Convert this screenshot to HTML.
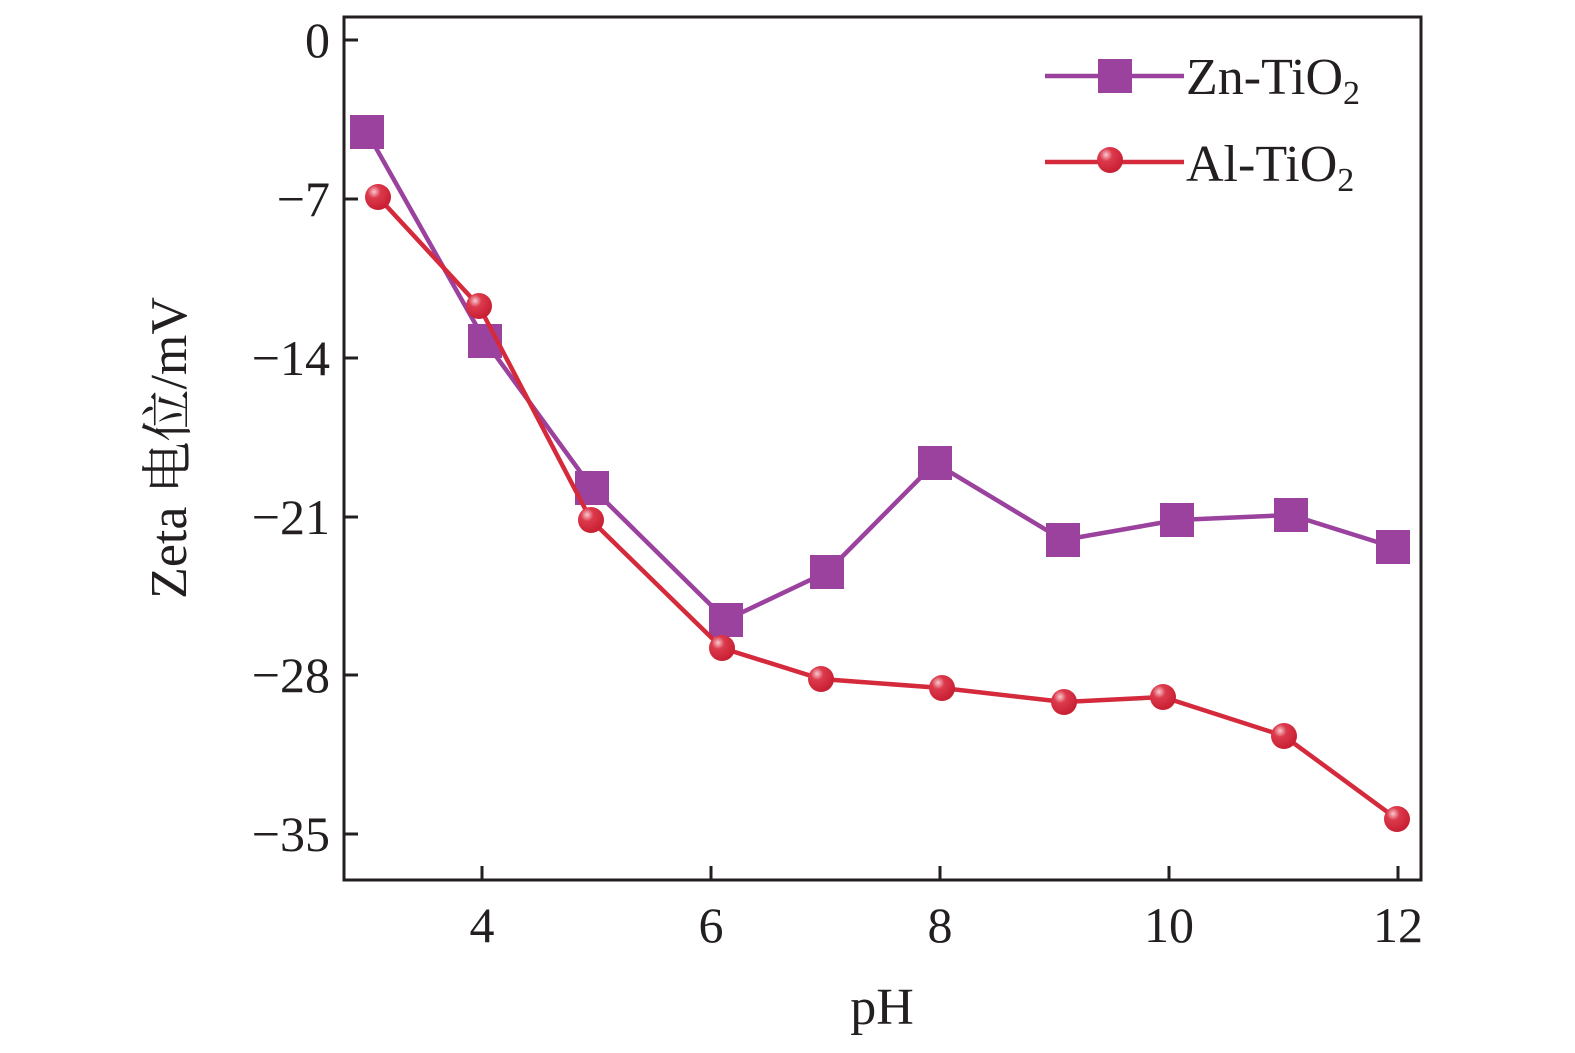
<!DOCTYPE html>
<html><head><meta charset="utf-8"><style>
html,body{margin:0;padding:0;background:#fff;overflow:hidden;width:1575px;height:1053px;}
svg{display:block;}
text{font-family:"Liberation Serif","Noto Serif CJK SC",serif;fill:#231f20;}
</style></head><body>
<svg width="1575" height="1053" viewBox="0 0 1575 1053" xmlns="http://www.w3.org/2000/svg">
<defs>
<radialGradient id="rg" cx="0.35" cy="0.3" r="0.7">
<stop offset="0" stop-color="#f7c9cf"/><stop offset="0.35" stop-color="#dc3a4c"/><stop offset="1" stop-color="#c81f33"/>
</radialGradient>
</defs>
<g stroke="#231f20" stroke-width="3" fill="none">
<rect x="344" y="17" width="1077" height="863"/>
<line x1="344" y1="40" x2="358" y2="40"/>
<line x1="344" y1="199" x2="358" y2="199"/>
<line x1="344" y1="358" x2="358" y2="358"/>
<line x1="344" y1="517" x2="358" y2="517"/>
<line x1="344" y1="675" x2="358" y2="675"/>
<line x1="344" y1="834" x2="358" y2="834"/>
<line x1="482" y1="880" x2="482" y2="866"/>
<line x1="711" y1="880" x2="711" y2="866"/>
<line x1="940" y1="880" x2="940" y2="866"/>
<line x1="1169" y1="880" x2="1169" y2="866"/>
<line x1="1398" y1="880" x2="1398" y2="866"/>
</g>
<g font-size="50" text-anchor="end">
<text x="330" y="57">0</text>
<text x="330" y="216">−7</text>
<text x="330" y="375">−14</text>
<text x="330" y="534">−21</text>
<text x="330" y="692">−28</text>
<text x="330" y="851">−35</text>
</g>
<g font-size="50" text-anchor="middle">
<text x="482" y="942">4</text>
<text x="711" y="942">6</text>
<text x="940" y="942">8</text>
<text x="1169" y="942">10</text>
<text x="1398" y="942">12</text>
<text x="882" y="1024" font-size="52">pH</text>
</g>
<text transform="translate(186,448) rotate(-90)" font-size="52" text-anchor="middle">Zeta 电位/mV</text>
<polyline fill="none" stroke="#9a429e" stroke-width="4.5" points="367,132 485,341 592,488 726,620 827,572 935,463 1063,540 1177,520 1291,515 1393,547"/>
<g fill="#9a429e">
<rect x="350" y="115" width="34" height="34"/><rect x="468" y="324" width="34" height="34"/><rect x="575" y="471" width="34" height="34"/><rect x="709" y="603" width="34" height="34"/><rect x="810" y="555" width="34" height="34"/><rect x="918" y="446" width="34" height="34"/><rect x="1046" y="523" width="34" height="34"/><rect x="1160" y="503" width="34" height="34"/><rect x="1274" y="498" width="34" height="34"/><rect x="1376" y="530" width="34" height="34"/>
</g>
<polyline fill="none" stroke="#d42a3c" stroke-width="4.5" points="378,197 479,306 591,520 722,648 821,679 942,688 1064,702 1163,697 1284,736 1397,819"/>
<g fill="url(#rg)">
<circle cx="378" cy="197" r="13"/><circle cx="479" cy="306" r="13"/><circle cx="591" cy="520" r="13"/><circle cx="722" cy="648" r="13"/><circle cx="821" cy="679" r="13"/><circle cx="942" cy="688" r="13"/><circle cx="1064" cy="702" r="13"/><circle cx="1163" cy="697" r="13"/><circle cx="1284" cy="736" r="13"/><circle cx="1397" cy="819" r="13"/>
</g>
<line x1="1045" y1="76" x2="1184" y2="76" stroke="#9a429e" stroke-width="4.5"/>
<rect x="1098" y="59" width="34" height="34" fill="#9a429e"/>
<line x1="1045" y1="162" x2="1184" y2="162" stroke="#d42a3c" stroke-width="4.5"/>
<circle cx="1110" cy="160" r="13" fill="url(#rg)"/>
<text x="1186" y="94" font-size="52">Zn-TiO<tspan font-size="34" dy="10">2</tspan></text>
<text x="1186" y="181" font-size="52">Al-TiO<tspan font-size="34" dy="10">2</tspan></text>
</svg>
</body></html>
